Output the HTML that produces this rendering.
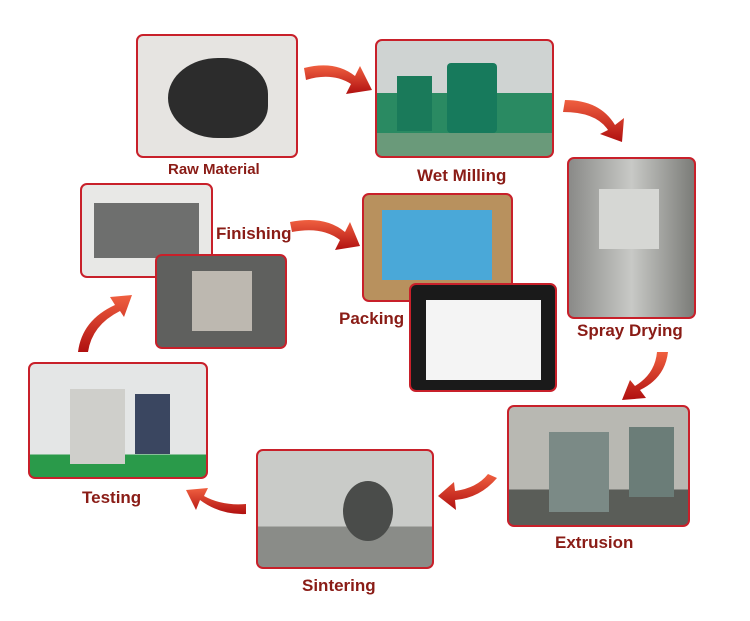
<!DOCTYPE html>
<html><head><meta charset="utf-8"><style>
body{margin:0;width:750px;height:621px;background:#fff;position:relative;overflow:hidden;font-family:"Liberation Sans",sans-serif}
.p{position:absolute;border:2px solid #c8202a;border-radius:7px;box-sizing:border-box;overflow:hidden}
.l{position:absolute;color:#8a1c16;font-weight:bold;font-size:17px;white-space:nowrap}
svg{position:absolute;left:0;top:0}
</style></head><body>
<div class="p" style="left:136px;top:34px;width:162px;height:124px;background:#e6e4e1">
 <div style="position:absolute;left:30px;top:22px;width:100px;height:80px;border-radius:50% 45% 40% 50%;background:#2c2c2c"></div></div>
<div class="p" style="left:375px;top:39px;width:179px;height:119px;background:linear-gradient(#cfd3d2 0 45%,#2a8a62 45% 80%,#6a9a7a 80%)">
 <div style="position:absolute;left:70px;top:22px;width:50px;height:70px;background:#177a5c;border-radius:4px"></div>
 <div style="position:absolute;left:20px;top:35px;width:35px;height:55px;background:#1a7a5a"></div></div>
<div class="p" style="left:567px;top:157px;width:129px;height:162px;background:linear-gradient(90deg,#8a8a88,#c8c9c6 50%,#7b7c78)">
 <div style="position:absolute;left:30px;top:30px;width:60px;height:60px;background:#d6d7d4"></div></div>
<div class="p" style="left:507px;top:405px;width:183px;height:122px;background:linear-gradient(#b8b8b2 0 70%,#5a5d58 70%)">
 <div style="position:absolute;left:40px;top:25px;width:60px;height:80px;background:#7b8a86"></div>
 <div style="position:absolute;left:120px;top:20px;width:45px;height:70px;background:#6b7d78"></div></div>
<div class="p" style="left:256px;top:449px;width:178px;height:120px;background:linear-gradient(#c9cbc8 0 65%,#8a8c88 65%)">
 <div style="position:absolute;left:85px;top:30px;width:50px;height:60px;border-radius:50%;background:#4a4c4a"></div></div>
<div class="p" style="left:28px;top:362px;width:180px;height:117px;background:linear-gradient(#e4e6e6 0 80%,#2a9a4a 80%)">
 <div style="position:absolute;left:40px;top:25px;width:55px;height:75px;background:#cfcfcb"></div>
 <div style="position:absolute;left:105px;top:30px;width:35px;height:60px;background:#3a4660"></div></div>
<div class="p" style="left:80px;top:183px;width:133px;height:95px;background:#e8e8e6">
 <div style="position:absolute;left:12px;top:18px;width:105px;height:55px;background:#6e6f6e"></div></div>
<div class="p" style="left:155px;top:254px;width:132px;height:95px;background:#5f605e">
 <div style="position:absolute;left:35px;top:15px;width:60px;height:60px;background:#bdb8b0"></div></div>
<div class="p" style="left:362px;top:193px;width:151px;height:109px;background:#b8915e">
 <div style="position:absolute;left:18px;top:15px;width:110px;height:70px;background:#4aa8d8"></div></div>
<div class="p" style="left:409px;top:283px;width:148px;height:109px;background:#1a1a1a">
 <div style="position:absolute;left:15px;top:15px;width:115px;height:80px;background:#f4f4f4"></div></div>
<div class="l" style="left:168px;top:161px;font-size:15px">Raw Material</div>
<div class="l" style="left:417px;top:166px">Wet Milling</div>
<div class="l" style="left:577px;top:321px">Spray Drying</div>
<div class="l" style="left:555px;top:533px">Extrusion</div>
<div class="l" style="left:302px;top:576px">Sintering</div>
<div class="l" style="left:82px;top:488px">Testing</div>
<div class="l" style="left:216px;top:224px">Finishing</div>
<div class="l" style="left:339px;top:309px">Packing</div>
<svg width="750" height="621"><defs><linearGradient id="g" x1="0" y1="0" x2="0" y2="1"><stop offset="0" stop-color="#f06040"/><stop offset="1" stop-color="#b01010"/></linearGradient></defs>
<g fill="url(#g)">
<path d="M304 68 Q335 60 355 76 L360 66 L372 90 L346 94 L351 84 Q332 72 306 80Z"/>
<path d="M565 100 Q600 100 615 125 L624 118 L622 142 L600 134 L608 130 Q596 112 563 112Z"/>
<path d="M668 352 Q665 378 640 390 L646 398 L622 400 L630 380 L635 386 Q655 374 657 352Z"/>
<path d="M497 478 Q480 498 455 500 L456 510 L438 496 L454 482 L455 491 Q477 488 488 474Z"/>
<path d="M246 514 Q220 515 200 500 L196 510 L186 490 L208 488 L204 496 Q222 506 246 504Z"/>
<path d="M78 352 Q82 320 115 305 L110 297 L132 295 L124 317 L120 311 Q92 325 88 352Z"/>
<path d="M290 222 Q325 215 345 232 L350 222 L360 246 L335 250 L340 240 Q322 226 292 232Z"/>
</g></svg>
</body></html>
